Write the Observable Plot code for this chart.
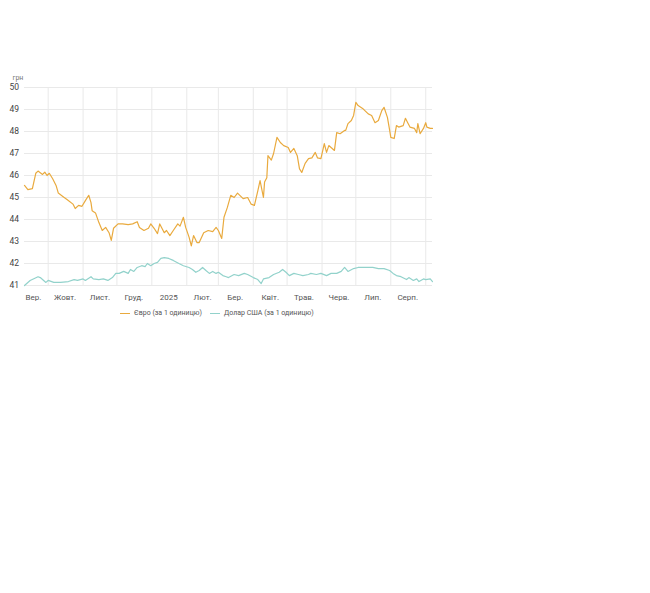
<!DOCTYPE html>
<html>
<head>
<meta charset="utf-8">
<script src="https://cdn.jsdelivr.net/npm/d3@7"></script>
<script src="https://cdn.jsdelivr.net/npm/@observablehq/plot@0.6"></script>
<style>
  body { margin: 0; background: #fff; font-family: Roboto, Arial, sans-serif; }
  #wrap { position: relative; width: 650px; height: 593px; }
  #legend { position: absolute; top: 308px; left: 120px; font-size: 7px; line-height: 10px; color: #555; display: flex; align-items: center; white-space: nowrap; }
  #legend .sw { display: inline-block; width: 10px; height: 0; border-top: 1.3px solid; margin-right: 4px; }
  #legend .item { display: flex; align-items: center; margin-right: 8px; }
</style>
</head>
<body>
<div id="wrap">
  <div id="chart"></div>
  <div id="legend"></div>
</div>
<script>
const unitLabel = "грн";
const seriesNames = ["Євро (за 1 одиницю)", "Долар США (за 1 одиницю)"];
const seriesColors = ["#e9aa3e", "#92d2cb"];

const yTicks = [41, 42, 43, 44, 45, 46, 47, 48, 49, 50];
const monthStarts = ["2024-10-01","2024-11-01","2024-12-01","2025-01-01","2025-02-01","2025-03-01","2025-04-01","2025-05-01","2025-06-01","2025-07-01","2025-08-01","2025-09-01"];
const xLabelDates = ["2024-09-18","2024-10-16","2024-11-16","2024-12-16","2025-01-16","2025-02-15","2025-03-16","2025-04-16","2025-05-16","2025-06-16","2025-07-16","2025-08-16"];
const xLabels = ["Вер.","Жовт.","Лист.","Груд.","2025","Лют.","Бер.","Квіт.","Трав.","Черв.","Лип.","Серп."];

const euroDates = ["2024-09-10","2024-09-13","2024-09-17","2024-09-20","2024-09-22","2024-09-26","2024-09-28","2024-09-30","2024-10-02","2024-10-05","2024-10-08","2024-10-10","2024-10-14","2024-10-18","2024-10-23","2024-10-25","2024-10-28","2024-10-31","2024-11-03","2024-11-06","2024-11-08","2024-11-09","2024-11-12","2024-11-15","2024-11-18","2024-11-21","2024-11-24","2024-11-26","2024-11-28","2024-12-02","2024-12-06","2024-12-11","2024-12-15","2024-12-19","2024-12-21","2024-12-25","2024-12-29","2024-12-31","2025-01-03","2025-01-06","2025-01-08","2025-01-12","2025-01-14","2025-01-17","2025-01-20","2025-01-24","2025-01-26","2025-01-29","2025-01-31","2025-02-03","2025-02-05","2025-02-07","2025-02-10","2025-02-12","2025-02-16","2025-02-20","2025-02-24","2025-02-27","2025-03-01","2025-03-04","2025-03-06","2025-03-09","2025-03-12","2025-03-15","2025-03-18","2025-03-23","2025-03-27","2025-03-30","2025-04-02","2025-04-05","2025-04-07","2025-04-10","2025-04-11","2025-04-13","2025-04-14","2025-04-17","2025-04-19","2025-04-22","2025-04-25","2025-04-28","2025-05-02","2025-05-04","2025-05-07","2025-05-10","2025-05-12","2025-05-14","2025-05-17","2025-05-20","2025-05-23","2025-05-26","2025-05-28","2025-05-31","2025-06-03","2025-06-05","2025-06-07","2025-06-12","2025-06-14","2025-06-17","2025-06-21","2025-06-22","2025-06-24","2025-06-27","2025-06-29","2025-07-01","2025-07-03","2025-07-07","2025-07-09","2025-07-12","2025-07-15","2025-07-18","2025-07-21","2025-07-24","2025-07-26","2025-07-29","2025-07-31","2025-08-01","2025-08-04","2025-08-06","2025-08-08","2025-08-12","2025-08-14","2025-08-16","2025-08-18","2025-08-22","2025-08-24","2025-08-25","2025-08-27","2025-08-30","2025-09-01","2025-09-02","2025-09-05","2025-09-07"];
const euroValues = [45.55,45.36,45.4,46.1,46.2,46.05,46.15,46.0,46.1,45.85,45.55,45.2,45.05,44.9,44.7,44.5,44.64,44.6,44.86,45.1,44.77,44.4,44.3,43.86,43.5,43.64,43.4,43.05,43.6,43.8,43.8,43.77,43.8,43.9,43.64,43.5,43.6,43.8,43.6,43.36,43.8,43.4,43.5,43.27,43.5,43.8,43.7,44.1,43.64,43.2,42.8,43.27,42.95,42.95,43.4,43.5,43.45,43.64,43.5,43.14,44.1,44.55,45.1,45.0,45.2,44.95,45.0,44.7,44.64,45.3,45.77,45.0,45.7,45.9,46.9,46.7,47.0,47.73,47.5,47.36,47.27,47.05,47.23,46.9,46.3,46.14,46.55,46.77,46.8,47.05,46.8,46.77,47.45,47.05,47.36,47.14,47.95,47.9,48.05,48.05,48.36,48.5,48.73,49.32,49.18,49.05,48.95,48.8,48.73,48.4,48.5,48.95,49.1,48.64,48.05,47.73,47.68,48.27,48.2,48.27,48.6,48.4,48.2,48.14,47.95,48.36,47.9,48.14,48.4,48.2,48.14,48.14];

const usdDates = ["2024-09-10","2024-09-15","2024-09-22","2024-09-24","2024-09-29","2024-10-01","2024-10-06","2024-10-12","2024-10-19","2024-10-24","2024-10-27","2024-11-01","2024-11-03","2024-11-08","2024-11-10","2024-11-15","2024-11-19","2024-11-23","2024-11-27","2024-11-30","2024-12-03","2024-12-07","2024-12-11","2024-12-13","2024-12-16","2024-12-19","2024-12-23","2024-12-26","2024-12-28","2024-12-31","2025-01-03","2025-01-06","2025-01-09","2025-01-12","2025-01-16","2025-01-20","2025-01-25","2025-01-29","2025-02-03","2025-02-06","2025-02-09","2025-02-12","2025-02-15","2025-02-18","2025-02-21","2025-02-24","2025-02-27","2025-03-01","2025-03-05","2025-03-08","2025-03-10","2025-03-15","2025-03-19","2025-03-24","2025-03-27","2025-04-01","2025-04-05","2025-04-08","2025-04-10","2025-04-15","2025-04-19","2025-04-24","2025-04-27","2025-04-30","2025-05-03","2025-05-07","2025-05-11","2025-05-15","2025-05-20","2025-05-22","2025-05-27","2025-05-31","2025-06-05","2025-06-09","2025-06-14","2025-06-18","2025-06-21","2025-06-24","2025-06-29","2025-07-03","2025-07-07","2025-07-12","2025-07-16","2025-07-21","2025-07-26","2025-07-31","2025-08-03","2025-08-06","2025-08-10","2025-08-15","2025-08-17","2025-08-21","2025-08-24","2025-08-26","2025-08-30","2025-09-01","2025-09-05","2025-09-07"];
const usdValues = [41.0,41.23,41.4,41.36,41.14,41.23,41.14,41.14,41.18,41.27,41.23,41.3,41.23,41.4,41.3,41.27,41.3,41.23,41.36,41.55,41.55,41.64,41.55,41.73,41.64,41.82,41.9,41.86,42.0,41.9,42.0,42.05,42.23,42.27,42.23,42.14,42.0,41.9,41.82,41.73,41.6,41.68,41.82,41.68,41.55,41.64,41.55,41.6,41.45,41.4,41.36,41.5,41.45,41.55,41.5,41.36,41.27,41.09,41.3,41.36,41.5,41.6,41.73,41.6,41.45,41.55,41.5,41.45,41.5,41.55,41.5,41.55,41.45,41.55,41.55,41.64,41.82,41.64,41.77,41.82,41.82,41.82,41.82,41.77,41.77,41.68,41.55,41.45,41.4,41.27,41.36,41.23,41.3,41.18,41.3,41.27,41.3,41.18];

const parse = d3.utcParse("%Y-%m-%d");
const euro = euroDates.map((d, i) => ({date: parse(d), value: euroValues[i]}));
const usd = usdDates.map((d, i) => ({date: parse(d), value: usdValues[i]}));
const gridColor = "#e9e9e9";

const chart = Plot.plot({
  width: 650,
  height: 305,
  marginTop: 87,
  marginBottom: 20,
  marginLeft: 24,
  marginRight: 218,
  style: {fontFamily: "Roboto, Arial, sans-serif", fontSize: "8px", color: "#444", background: "#fff"},
  x: {type: "utc", domain: [parse("2024-09-10"), parse("2025-09-07")]},
  y: {domain: [41, 50]},
  marks: [
    Plot.gridY(yTicks, {stroke: gridColor, strokeOpacity: 1}),
    Plot.gridX(monthStarts.map(parse), {stroke: gridColor, strokeOpacity: 1}),
    Plot.axisY(yTicks, {tickSize: 0, textAnchor: "start", dx: -6, label: null, fill: "#444", fontSize: 8.5}),
    Plot.axisX(xLabelDates.map(parse), {
      tickSize: 0, tickPadding: 9, label: null, fill: "#555", fontSize: 8,
      tickFormat: (d, i) => xLabels[i],
      fontWeight: (d, i) => xLabels[i] === "2025" ? "bold" : "normal"
    }),
    Plot.text([unitLabel], {frameAnchor: "top-left", dx: -12, dy: -12, fontSize: 7, fill: "#777", textAnchor: "start"}),
    Plot.lineY(usd, {x: "date", y: "value", stroke: seriesColors[1], strokeWidth: 1.2}),
    Plot.lineY(euro, {x: "date", y: "value", stroke: seriesColors[0], strokeWidth: 1.2})
  ]
});
document.getElementById("chart").appendChild(chart);

const legend = document.getElementById("legend");
seriesNames.forEach((name, i) => {
  const item = document.createElement("span");
  item.className = "item";
  const sw = document.createElement("span");
  sw.className = "sw";
  sw.style.borderTopColor = seriesColors[i];
  item.appendChild(sw);
  item.appendChild(document.createTextNode(name));
  legend.appendChild(item);
});
</script>
</body>
</html>
